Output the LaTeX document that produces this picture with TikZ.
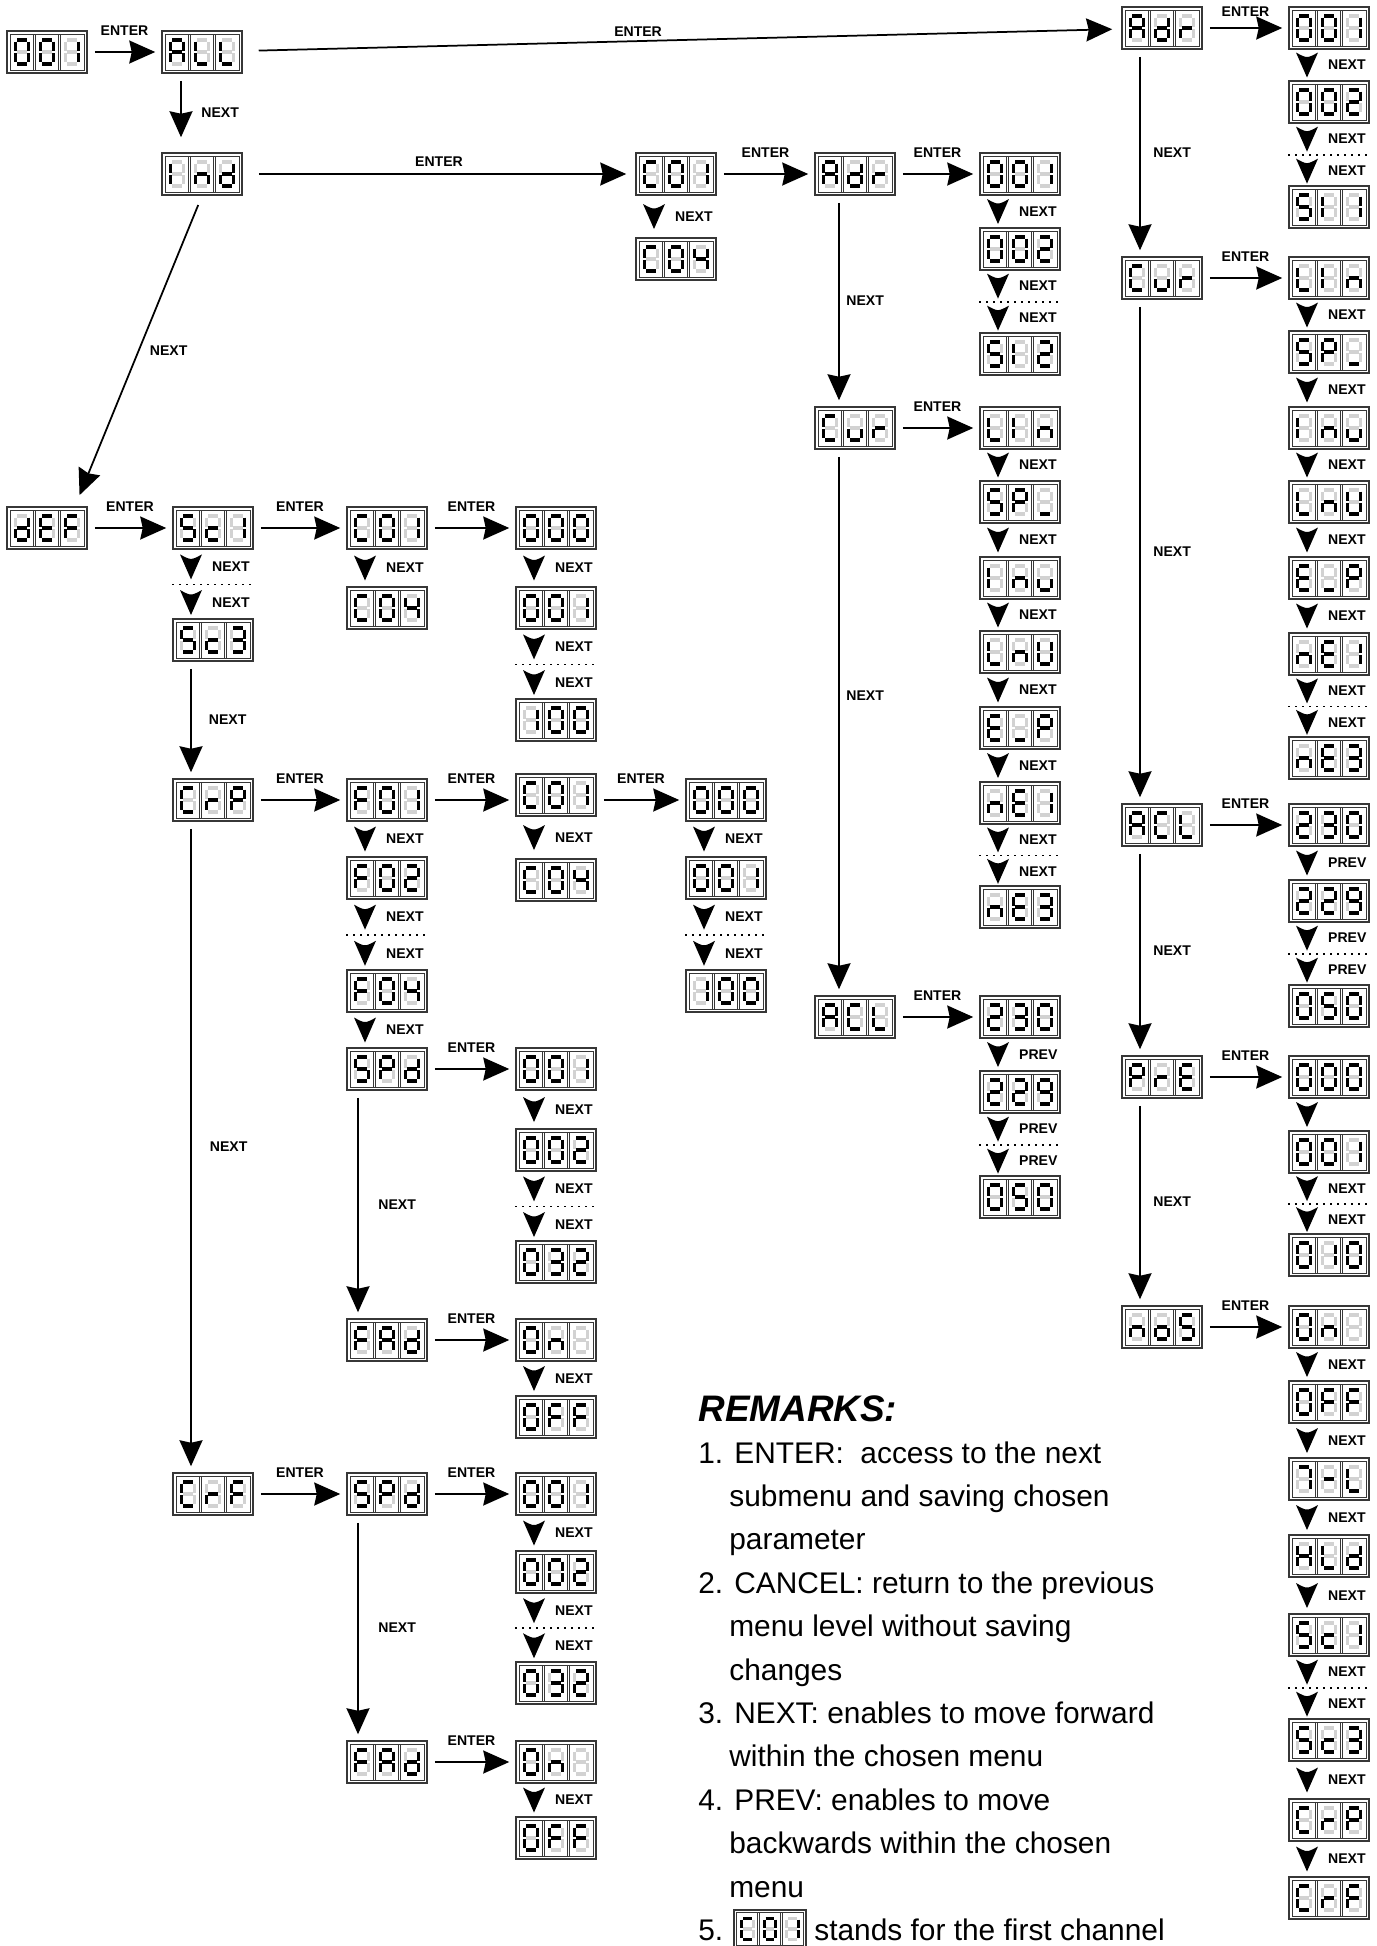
\documentclass[tikz,border=0pt]{standalone}
\usepackage{fontspec}
\setmainfont{Liberation Sans}
\usetikzlibrary{positioning,calc}
\usetikzlibrary{arrows.meta}
\definecolor{SegOff}{RGB}{210,210,210}
\definecolor{FrameGray}{RGB}{55,55,55}
\tikzset{
  lcd/.style={draw=FrameGray,line width=0.3mm,fill=white,minimum width=16mm,minimum height=8.4mm,inner sep=0pt},
  lcdin/.style={draw=FrameGray,line width=0.2mm},
  segon/.style={draw=black,line width=0.62mm},
  segoff/.style={draw=SegOff,line width=0.62mm},
  enter/.style={draw=black,line width=0.35mm,-{Stealth[length=5.2mm,width=4.6mm,inset=0.5mm]},shorten <=1.4mm,shorten >=1.2mm},
  lbl/.style={font=\fontsize{8}{9}\selectfont\bfseries,inner sep=0.5mm},
  tri/.style={inner sep=0pt,minimum width=4.4mm,minimum height=5mm,xshift=-4.4mm,
    path picture={\fill[black] (path picture bounding box.north west)
      .. controls ([yshift=-1.2mm]path picture bounding box.north) ..
      (path picture bounding box.north east) -- (path picture bounding box.south) -- cycle;}},
  dotrule/.style={draw=black,line width=0.3mm,dash pattern=on 0.3mm off 1.1mm},
  remark/.style={font=\fontsize{17}{20}\selectfont,inner sep=0pt,anchor=base west},
}
% segment paths of one digit
\def\lcdpa{(-4.8,-12)--(4.8,-12)}
\def\lcdpb{(6.6,-10.4)--(6.6,-1.3)}
\def\lcdpc{(6.6,1.3)--(6.6,10.4)}
\def\lcdpd{(-4.8,12)--(4.8,12)}
\def\lcdpe{(-6.6,1.3)--(-6.6,10.4)}
\def\lcdpf{(-6.6,-10.4)--(-6.6,-1.3)}
\def\lcdpg{(-4.8,0)--(4.8,0)}
\def\lcdpz{(0,0)}
% characters
\newcommand\lcddef[2]{\expandafter\def\csname lcdch#1\endcsname{#2}}
\lcddef{0}{a,b,c,d,e,f}\lcddef{1}{b,c}\lcddef{2}{a,b,d,e,g}\lcddef{3}{a,b,c,d,g}
\lcddef{4}{b,c,f,g}\lcddef{5}{a,c,d,f,g}\lcddef{7}{a,b,c}\lcddef{9}{a,b,c,d,f,g}
\lcddef{A}{a,b,c,e,f,g}\lcddef{C}{a,d,e,f}\lcddef{c}{d,e,g}\lcddef{d}{b,c,d,e,g}
\lcddef{E}{a,d,e,f,g}\lcddef{F}{a,e,f,g}\lcddef{H}{b,c,e,f,g}\lcddef{I}{e,f}
\lcddef{L}{d,e,f}\lcddef{n}{c,e,g}\lcddef{o}{c,d,e,g}\lcddef{P}{a,b,e,f,g}
\lcddef{r}{e,g}\lcddef{u}{c,d,e}\lcddef{U}{b,c,d,e,f}\lcddef{_}{d}\lcddef{-}{g}
\lcddef{x}{z}
\newcommand\lcdcell[2]{%
  \begin{scope}[shift={(#1,0)}]
    \foreach \s in {a,b,c,d,e,f,g}{\edef\lcdtmp{\noexpand\draw[segoff] \csname lcdp\s\endcsname;}\lcdtmp}
    \edef\lcdlist{\csname lcdch#2\endcsname}
    \foreach \s in \lcdlist {\edef\lcdtmp{\noexpand\draw[segon] \csname lcdp\s\endcsname;}\lcdtmp}
  \end{scope}}
\newcommand\lcdbox[5]{%
  \node[lcd] (#1) at (#2) {};
  \begin{scope}[shift={(#2)}]
    \draw[lcdin] (-37,-18) rectangle (37,18);
    \foreach \dx in {-13.6,-11.4,11.4,13.6} \draw[lcdin] (\dx,-18) -- (\dx,18);
    \lcdcell{-25}{#3}\lcdcell{0}{#4}\lcdcell{25}{#5}
  \end{scope}}
\newcommand\entarrow[3][2.7mm]{\draw[enter] (#2.east) -- node[lbl,above=#1] (#2-#3) {ENTER} (#2.east -| #3.west);}
\newcommand\nextstep[3][NEXT]{%
  \path (#2) -- node[tri] (#2-#3) {} (#3);
  \node[lbl,right=1.4mm of #2-#3] (#2-#3-l) {#1};}
\newcommand\nextdots[3][NEXT]{%
  \path (#2) -- node[tri,pos=.25] (#2-#3-a) {} coordinate[pos=.51] (#2-#3-d) node[tri,pos=.77] (#2-#3-b) {} (#3);
  \draw[dotrule] (#2-#3-d -| #2.west) -- (#2-#3-d -| #2.east);
  \node[lbl,right=1.4mm of #2-#3-a] (#2-#3-la) {#1};
  \node[lbl,right=1.4mm of #2-#3-b] (#2-#3-lb) {#1};}

\begin{document}
\begin{tikzpicture}[x=0.2mm,y=-0.2mm]
\useasboundingbox (0,0) rectangle (1377,1946);

% main menu
\lcdbox{top}{47,52}{0}{0}{1}
\lcdbox{all}{202,52}{A}{L}{L}
\lcdbox{ind}{202,174}{I}{n}{d}
\lcdbox{def}{47,528}{d}{E}{F}
\entarrow{top}{all}
\draw[enter,shorten >=3mm] ([xshift=-4.2mm]all.south) -- node[lbl,right=3.4mm] (all-ind) {NEXT} ([xshift=-4.2mm]ind.north);
\draw[enter,shorten <=2mm,shorten >=2.4mm] (ind.south) -- node[lbl,right=1.6mm] (ind-def) {NEXT} ([xshift=5.6mm]def.north);

% ALL branch
\lcdbox{adrA}{1162,28}{A}{d}{r}
\lcdbox{adrA1}{1329,28}{0}{0}{1}
\lcdbox{adrA2}{1329,102}{0}{0}{2}
\lcdbox{adrA3}{1329,207}{5}{I}{1}
\draw[enter,shorten <=3.2mm,shorten >=1.8mm] (all) -- node[lbl,pos=.45,above=0.3mm] (all-adrA) {ENTER} (adrA);
\entarrow[1.7mm]{adrA}{adrA1}
\nextstep{adrA1}{adrA2}
\nextdots{adrA2}{adrA3}

\lcdbox{curA}{1162,278}{C}{u}{r}
\lcdbox{curA1}{1329,278}{L}{I}{n}
\lcdbox{curA2}{1329,352}{5}{P}{_}
\lcdbox{curA3}{1329,428}{I}{n}{u}
\lcdbox{curA4}{1329,502}{L}{n}{U}
\lcdbox{curA5}{1329,578}{E}{_}{P}
\lcdbox{curA6}{1329,654}{n}{E}{1}
\lcdbox{curA7}{1329,758}{n}{E}{3}
\draw[enter] ([xshift=-4.4mm]adrA.south) -- node[lbl,right=2mm] (adrA-curA) {NEXT} ([xshift=-4.4mm]curA.north);
\entarrow{curA}{curA1}
\nextstep{curA1}{curA2}
\nextstep{curA2}{curA3}
\nextstep{curA3}{curA4}
\nextstep{curA4}{curA5}
\nextstep{curA5}{curA6}
\nextdots{curA6}{curA7}

\lcdbox{aclA}{1162,825}{A}{C}{L}
\lcdbox{aclA1}{1329,825}{2}{3}{0}
\lcdbox{aclA2}{1329,901}{2}{2}{9}
\lcdbox{aclA3}{1329,1006}{0}{5}{0}
\draw[enter] ([xshift=-4.4mm]curA.south) -- node[lbl,right=2mm] (curA-aclA) {NEXT} ([xshift=-4.4mm]aclA.north);
\entarrow{aclA}{aclA1}
\nextstep[PREV]{aclA1}{aclA2}
\nextdots[PREV]{aclA2}{aclA3}

\lcdbox{pre}{1162,1077}{P}{r}{E}
\lcdbox{pre1}{1329,1077}{0}{0}{0}
\lcdbox{pre2}{1329,1152}{0}{0}{1}
\lcdbox{pre3}{1329,1255}{0}{1}{0}
\draw[enter] ([xshift=-4.4mm]aclA.south) -- node[lbl,right=2mm] (aclA-pre) {NEXT} ([xshift=-4.4mm]pre.north);
\entarrow{pre}{pre1}
\nextstep[]{pre1}{pre2}
\nextdots{pre2}{pre3}

\lcdbox{nos}{1162,1327}{n}{o}{5}
\lcdbox{nos1}{1329,1327}{0}{n}{x}
\lcdbox{nos2}{1329,1402}{0}{F}{F}
\lcdbox{nos3}{1329,1479}{7}{-}{L}
\lcdbox{nos4}{1329,1556}{H}{L}{d}
\lcdbox{nos5}{1329,1635}{5}{c}{1}
\lcdbox{nos6}{1329,1740}{5}{c}{3}
\lcdbox{nos7}{1329,1820}{C}{r}{P}
\lcdbox{nos8}{1329,1898}{C}{r}{F}
\draw[enter] ([xshift=-4.4mm]pre.south) -- node[lbl,right=2mm] (pre-nos) {NEXT} ([xshift=-4.4mm]nos.north);
\entarrow{nos}{nos1}
\nextstep{nos1}{nos2}
\nextstep{nos2}{nos3}
\nextstep{nos3}{nos4}
\nextstep{nos4}{nos5}
\nextdots{nos5}{nos6}
\nextstep{nos6}{nos7}
\nextstep{nos7}{nos8}

% Ind branch
\lcdbox{chB}{676,174}{C}{0}{1}
\lcdbox{chB2}{676,259}{C}{0}{4}
\draw[enter,shorten <=3.2mm,shorten >=1.8mm] (ind) -- node[lbl,above=0.9mm] (ind-chB) {ENTER} (chB);
\nextstep{chB}{chB2}

\lcdbox{adrB}{855,174}{A}{d}{r}
\lcdbox{adrB1}{1020,174}{0}{0}{1}
\lcdbox{adrB2}{1020,249}{0}{0}{2}
\lcdbox{adrB3}{1020,354}{5}{I}{2}
\entarrow{chB}{adrB}
\entarrow{adrB}{adrB1}
\nextstep{adrB1}{adrB2}
\nextdots{adrB2}{adrB3}

\lcdbox{curB}{855,428}{C}{u}{r}
\lcdbox{curB1}{1020,428}{L}{I}{n}
\lcdbox{curB2}{1020,502}{5}{P}{_}
\lcdbox{curB3}{1020,578}{I}{n}{u}
\lcdbox{curB4}{1020,652}{L}{n}{U}
\lcdbox{curB5}{1020,728}{E}{_}{P}
\lcdbox{curB6}{1020,803}{n}{E}{1}
\lcdbox{curB7}{1020,907}{n}{E}{3}
\draw[enter] ([xshift=-3.2mm]adrB.south) -- node[lbl,right=0.8mm] (adrB-curB) {NEXT} ([xshift=-3.2mm]curB.north);
\entarrow{curB}{curB1}
\nextstep{curB1}{curB2}
\nextstep{curB2}{curB3}
\nextstep{curB3}{curB4}
\nextstep{curB4}{curB5}
\nextstep{curB5}{curB6}
\nextdots{curB6}{curB7}

\lcdbox{aclB}{855,1017}{A}{C}{L}
\lcdbox{aclB1}{1020,1017}{2}{3}{0}
\lcdbox{aclB2}{1020,1092}{2}{2}{9}
\lcdbox{aclB3}{1020,1197}{0}{5}{0}
\draw[enter] ([xshift=-3.2mm]curB.south) -- node[lbl,pos=.45,right=0.8mm] (curB-aclB) {NEXT} ([xshift=-3.2mm]aclB.north);
\entarrow{aclB}{aclB1}
\nextstep[PREV]{aclB1}{aclB2}
\nextdots[PREV]{aclB2}{aclB3}

% dEF branch
\lcdbox{scA}{213,528}{5}{c}{1}
\lcdbox{scB}{213,640}{5}{c}{3}
\entarrow{def}{scA}
\nextdots{scA}{scB}

\lcdbox{chC}{387,528}{C}{0}{1}
\lcdbox{chC2}{387,608}{C}{0}{4}
\entarrow{scA}{chC}
\nextstep{chC}{chC2}

\lcdbox{valC1}{556,528}{0}{0}{0}
\lcdbox{valC2}{556,608}{0}{0}{1}
\lcdbox{valC3}{556,720}{1}{0}{0}
\entarrow{chC}{valC1}
\nextstep{valC1}{valC2}
\nextdots{valC2}{valC3}

\lcdbox{crp}{213,800}{C}{r}{P}
\draw[enter] ([xshift=-4.4mm]scB.south) -- node[lbl,right=2.9mm] (scB-crp) {NEXT} ([xshift=-4.4mm]crp.north);

\lcdbox{fA}{387,800}{F}{0}{1}
\lcdbox{fB}{387,878}{F}{0}{2}
\lcdbox{fC}{387,991}{F}{0}{4}
\lcdbox{spdA}{387,1069}{5}{P}{d}
\entarrow{crp}{fA}
\nextstep{fA}{fB}
\nextdots{fB}{fC}
\nextstep{fC}{spdA}

\lcdbox{chD}{556,795}{C}{0}{1}
\lcdbox{chD2}{556,880}{C}{0}{4}
\entarrow{fA}{chD}
\nextstep{chD}{chD2}

\lcdbox{valD1}{726,800}{0}{0}{0}
\lcdbox{valD2}{726,878}{0}{0}{1}
\lcdbox{valD3}{726,991}{1}{0}{0}
\draw[enter] (chD.east |- valD1.west) -- node[lbl,above=2.7mm] (chD-valD1) {ENTER} (valD1.west);
\nextstep{valD1}{valD2}
\nextdots{valD2}{valD3}

\lcdbox{spdA1}{556,1069}{0}{0}{1}
\lcdbox{spdA2}{556,1150}{0}{0}{2}
\lcdbox{spdA3}{556,1262}{0}{3}{2}
\entarrow{spdA}{spdA1}
\nextstep{spdA1}{spdA2}
\nextdots{spdA2}{spdA3}

\lcdbox{fadA}{387,1340}{F}{A}{d}
\lcdbox{fadA1}{556,1340}{0}{n}{x}
\lcdbox{fadA2}{556,1417}{0}{F}{F}
\draw[enter] ([xshift=-5.8mm]spdA.south) -- node[lbl,right=3.4mm] (spdA-fadA) {NEXT} ([xshift=-5.8mm]fadA.north);
\entarrow{fadA}{fadA1}
\nextstep{fadA1}{fadA2}

\lcdbox{crf}{213,1494}{C}{r}{F}
\draw[enter] ([xshift=-4.4mm]crp.south) -- node[lbl,right=3.1mm] (crp-crf) {NEXT} ([xshift=-4.4mm]crf.north);

\lcdbox{spdB}{387,1494}{5}{P}{d}
\lcdbox{spdB1}{556,1494}{0}{0}{1}
\lcdbox{spdB2}{556,1572}{0}{0}{2}
\lcdbox{spdB3}{556,1683}{0}{3}{2}
\entarrow{crf}{spdB}
\entarrow{spdB}{spdB1}
\nextstep{spdB1}{spdB2}
\nextdots{spdB2}{spdB3}

\lcdbox{fadB}{387,1762}{F}{A}{d}
\lcdbox{fadB1}{556,1762}{0}{n}{x}
\lcdbox{fadB2}{556,1838}{0}{F}{F}
\draw[enter] ([xshift=-5.8mm]spdB.south) -- node[lbl,right=3.4mm] (spdB-fadB) {NEXT} ([xshift=-5.8mm]fadB.north);
\entarrow{fadB}{fadB1}
\nextstep{fadB1}{fadB2}

% remarks
\node[remark,font=\fontsize{21}{24}\selectfont\bfseries\itshape] (remtitle) at (698,1421) {REMARKS:};
\foreach \tx/\t [count=\i from 0] in {
  698/{1. ENTER:\ \ access to the next},
  729/{submenu and saving chosen},
  729/{parameter},
  698/{2. CANCEL: return to the previous},
  729/{menu level without saving},
  729/{changes},
  698/{3. NEXT: enables to move forward},
  729/{within the chosen menu},
  698/{4. PREV: enables to move},
  729/{backwards within the chosen},
  729/{menu}}
  \node[remark] (rem\i) at (\tx,{1463+43.4*\i}) {\t};
\node[remark] (rem11) at (698,1940) {5.};
\begin{scope}[shift={(770,1929)},scale=0.9,transform shape]
\lcdbox{remch}{0,0}{C}{0}{1}
\end{scope}
\node[remark] (rem11b) at (814,1940) {stands for the first channel};
\end{tikzpicture}
\end{document}
